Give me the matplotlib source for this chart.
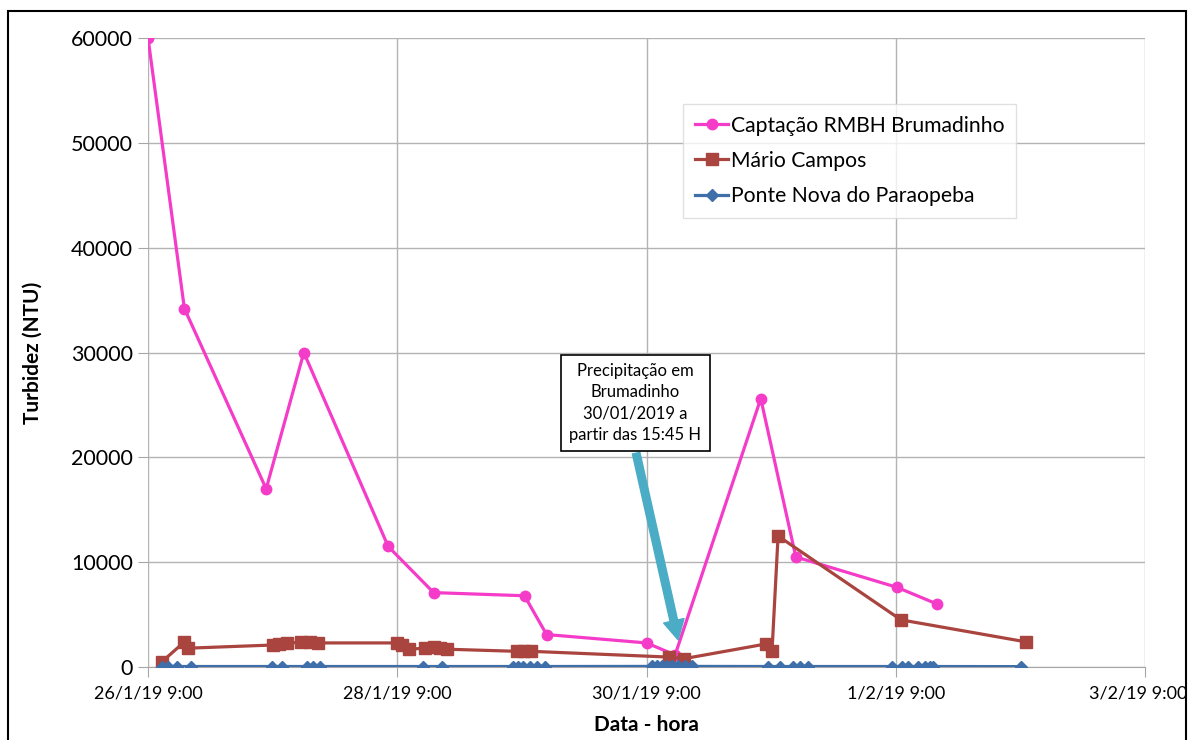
import matplotlib.pyplot as plt
import matplotlib.dates as mdates
from matplotlib.patches import Rectangle
from matplotlib.ticker import FuncFormatter
from matplotlib.transforms import ScaledTranslation
import pandas as pd

plt.rcParams['font.family'] = ['Lato', 'DejaVu Sans']

# Captação RMBH Brumadinho
t_captacao = ['2019-01-26 09:00', '2019-01-26 16:00', '2019-01-27 07:45', '2019-01-27 15:00',
              '2019-01-28 07:15', '2019-01-28 16:00', '2019-01-29 09:30', '2019-01-29 13:45',
              '2019-01-30 09:00', '2019-01-30 14:30', '2019-01-31 07:00', '2019-01-31 13:45',
              '2019-02-01 09:15', '2019-02-01 17:00']
v_captacao = [60000, 34200, 17000, 30000, 11500, 7100, 6800, 3100,
              2300, 1150, 25600, 10500, 7600, 6000]

# Mário Campos
t_mario = ['2019-01-26 11:40', '2019-01-26 16:00', '2019-01-26 16:45', '2019-01-27 09:00',
           '2019-01-27 10:15', '2019-01-27 11:45', '2019-01-27 14:30', '2019-01-27 16:15',
           '2019-01-27 17:45', '2019-01-28 09:00', '2019-01-28 10:00', '2019-01-28 11:15',
           '2019-01-28 14:25', '2019-01-28 16:00', '2019-01-28 17:15', '2019-01-28 18:35',
           '2019-01-29 08:00', '2019-01-29 09:25', '2019-01-29 10:45', '2019-01-30 13:20',
           '2019-01-30 16:15', '2019-01-31 08:00', '2019-01-31 09:10', '2019-01-31 10:20',
           '2019-02-01 10:00', '2019-02-02 10:05']
v_mario = [500, 2400, 1800, 2100, 2200, 2300, 2350, 2350,
           2300, 2300, 2100, 1700, 1800, 1900, 1800, 1700,
           1500, 1500, 1500, 950, 800, 2200, 1500, 12500,
           4500, 2400]

# Ponte Nova do Paraopeba
t_ponte = ['2019-01-26 11:40', '2019-01-26 12:50', '2019-01-26 14:35', '2019-01-26 17:20',
           '2019-01-27 08:55', '2019-01-27 10:50', '2019-01-27 15:40', '2019-01-27 16:50',
           '2019-01-27 18:10', '2019-01-28 14:00', '2019-01-28 17:40', '2019-01-29 07:20',
           '2019-01-29 08:15', '2019-01-29 09:15', '2019-01-29 10:35', '2019-01-29 12:00',
           '2019-01-29 13:30', '2019-01-30 10:05', '2019-01-30 11:00', '2019-01-30 12:00',
           '2019-01-30 13:00', '2019-01-30 13:55', '2019-01-30 15:05', '2019-01-30 16:25',
           '2019-01-30 17:45', '2019-01-31 08:25', '2019-01-31 10:45', '2019-01-31 13:10',
           '2019-01-31 14:35', '2019-01-31 16:05', '2019-02-01 08:20', '2019-02-01 10:15',
           '2019-02-01 11:25', '2019-02-01 13:20', '2019-02-01 14:40', '2019-02-01 15:35',
           '2019-02-01 16:10', '2019-02-02 09:10']
v_ponte = [40, 50, 50, 50, 50, 50, 50, 50,
           50, 50, 50, 50, 50, 50, 50, 50,
           50, 60, 60, 60, 60, 60, 60, 60,
           60, 50, 50, 50, 50, 50, 50, 50,
           50, 50, 50, 50, 50, 40]

y_ticks = [0, 10000, 20000, 30000, 40000, 50000, 60000]
x_start, x_end = pd.Timestamp('2019-01-26 09:00'), pd.Timestamp('2019-02-03 09:00')

fig = plt.figure(figsize=(11.9, 7.4), dpi=100)
ax = fig.add_axes([0.1244, 0.0986, 0.8378, 0.85])

# outer chart border
fig.patches.append(Rectangle((0.007, -0.01), 0.99, 0.995, transform=fig.transFigure,
                             fill=False, edgecolor='black', linewidth=1.5))

ax.plot(pd.to_datetime(t_captacao), v_captacao, color='#F53CC8', lw=2.3, marker='o', ms=7.5,
        label='Captação RMBH Brumadinho', zorder=3)
ax.plot(pd.to_datetime(t_mario), v_mario, color='#A9443F', lw=2.3, marker='s', ms=8,
        label='Mário Campos', zorder=4)
ax.plot(pd.to_datetime(t_ponte), v_ponte, color='#3F6FAA', lw=2.3, marker='D', ms=6,
        label='Ponte Nova do Paraopeba', zorder=5)

ax.set_xlim(x_start, x_end)
ax.set_ylim(0, 60000)
ax.set_yticks(y_ticks)
ax.set_xticks(pd.date_range(x_start, x_end, freq='2D'))
ax.xaxis.set_major_formatter(FuncFormatter(
    lambda v, p: (lambda d: f'{d.day}/{d.month}/{d.year % 100} {d.hour}:{d.minute:02d}')(mdates.num2date(v))))

ax.grid(True, color='#B3B3B3', lw=1)
for s in ['top', 'right', 'left']:
    ax.spines[s].set_visible(False)
ax.spines['bottom'].set_color('#A6A6A6')
ax.tick_params(axis='both', color='#A6A6A6', length=7)
ax.tick_params(axis='y', labelsize=15.5, pad=4)
ax.tick_params(axis='x', labelsize=13, pad=6)
# keep the last date label inside the figure
last = ax.get_xticklabels()[-1]
last.set_transform(last.get_transform() + ScaledTranslation(-5 / 72, 0, fig.dpi_scale_trans))

ax.set_ylabel('Turbidez (NTU)', fontsize=15, fontweight='bold')
ax.set_xlabel('Data - hora', fontsize=15, fontweight='bold')
ax.yaxis.set_label_coords(-0.106, 0.5)
ax.xaxis.set_label_coords(0.5, -0.076)

leg = ax.legend(loc='upper left', bbox_to_anchor=(0.526, 0.912), fontsize=15.2, frameon=True,
                fancybox=False, edgecolor='#D9D9D9', handlelength=1.6, handletextpad=0.1,
                labelspacing=0.72, borderpad=0.55)

# annotation box and arrow
ax.annotate('', xy=(pd.Timestamp('2019-01-30 15:05'), 2600),
            xytext=(pd.Timestamp('2019-01-30 07:00'), 20400),
            arrowprops=dict(facecolor='#4BACC6', edgecolor='#4BACC6', width=5.5, headwidth=15,
                            headlength=14, shrink=0),
            zorder=6)
ax.text(pd.Timestamp('2019-01-30 06:50'), 25200,
        'Precipitação em\nBrumadinho\n30/01/2019 a\npartir das 15:45 H',
        fontsize=12, ha='center', va='center', linespacing=1.4,
        bbox=dict(boxstyle='square,pad=0.5', fc='white', ec='black', lw=1.2), zorder=7)

fig.savefig('out.png', dpi=100)
